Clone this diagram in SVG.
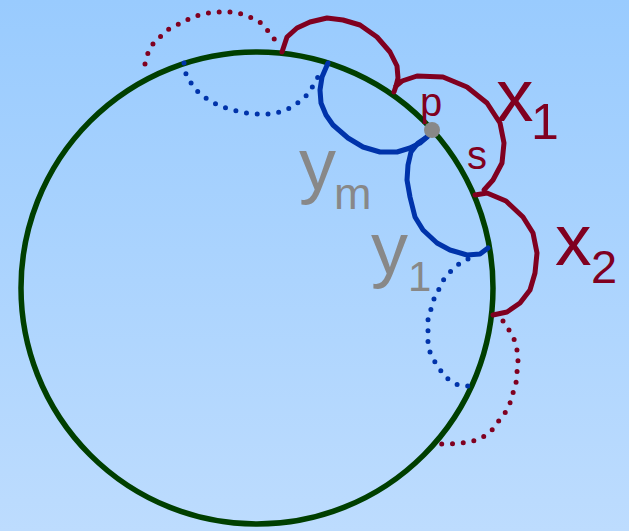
<svg xmlns="http://www.w3.org/2000/svg" width="629" height="531" viewBox="0 0 629 531">
<defs>
<linearGradient id="bg" x1="0" y1="0" x2="0" y2="1">
<stop offset="0" stop-color="#99cbfe"/>
<stop offset="1" stop-color="#bddcfe"/>
</linearGradient>
</defs>
<style>
.red{fill:none;stroke:#800020;stroke-width:5;stroke-linejoin:round;stroke-linecap:round}
.blue{fill:none;stroke:#0033aa;stroke-width:5;stroke-linejoin:round;stroke-linecap:round}
.rdot{fill:none;stroke:#800020;stroke-width:5;stroke-linecap:round;stroke-dasharray:0 10.8}
.bdot{fill:none;stroke:#0033aa;stroke-width:5;stroke-linecap:round;stroke-dasharray:0 10.8}
.t{font-family:"Liberation Sans",Arial,sans-serif}
.tr{fill:#800020}
.tg{fill:#888888}
</style>
<rect width="629" height="531" fill="url(#bg)"/>
<g id="circle">
<circle cx="257" cy="288" r="236" fill="none" stroke="#003f00" stroke-width="5.5"/>
</g>
<g id="connectors">
<path class="rdot" d="M145,64 L148,53 L153,44 L161,36 L169,29 L179,24 L189,19 L199,15 L209,13 L220,12 L231,12 L242,14 L252,18 L261,23 L269,32 L275,40"/>
<path class="bdot" d="M184,63 L186,74 L191,83 L198,92 L207,99 L216,104 L226,108 L237,111 L247,113 L258,114 L269,114 L280,112 L290,108 L299,102 L307,95 L313,86 L318,77 L322,68"/>
<path class="rdot" d="M503,321 L509,330 L514,339 L517,350 L518,361 L517,372 L516,383 L513,393 L510,403 L505,413 L498,422 L492,430 L483,437 L473,441 L462,443 L451,444 L440,444"/>
<path class="bdot" d="M468,259 L459,264 L451,271 L444,279 L439,289 L434,299 L431,309 L428,320 L428,331 L428,342 L430,352 L435,362 L441,371 L448,379 L458,385 L468,386"/>
<path id="red1" class="red" d="M282,52 L287,37 L297,28 L310,22 L327,18 L343,20 L360,25 L377,37 L390,52 L397,66 L398,78 L396,86 L394,92"/>
<path id="red2" class="red" d="M396,86 L402,81 L417,76 L443,77 L467,87 L487,103 L500,123 L504,143 L502,163 L493,180 L484,190"/>
<path id="red3" class="red" d="M475,195 L487,193 L506,201 L523,217 L533,233 L537,253 L535,273 L530,290 L520,303 L507,312 L493,315"/>
<path id="blueM" class="blue" d="M328,63 L322,77 L320,90 L321,103 L326,115 L333,125 L348,138 L363,147 L380,152 L397,152 L410,148 L420,143 L427,137 L432,130"/>
<path id="blue1" class="blue" d="M427,137 L418,143 L411,152 L408,165 L407,180 L410,197 L415,217 L423,230 L437,243 L450,250 L467,255 L480,254 L488,248"/>
</g>
<g id="point-p">
<circle cx="432" cy="130" r="8" fill="#888888"/>
</g>
<g id="labels" class="t">
<text class="tr" x="420" y="116" font-size="40">p</text>
<text class="tr" x="467" y="169" font-size="40">s</text>
<text class="tr" x="496" y="121" font-size="75">x</text>
<text class="tr" x="531" y="139" font-size="50">1</text>
<text class="tr" x="555" y="265" font-size="73">x</text>
<text class="tr" x="591" y="283" font-size="47">2</text>
<text class="tg" x="299" y="190" font-size="74">y</text>
<text class="tg" x="334" y="209" font-size="45">m</text>
<text class="tg" x="371" y="274" font-size="74">y</text>
<text class="tg" x="408" y="291" font-size="42">1</text>
</g>
</svg>
